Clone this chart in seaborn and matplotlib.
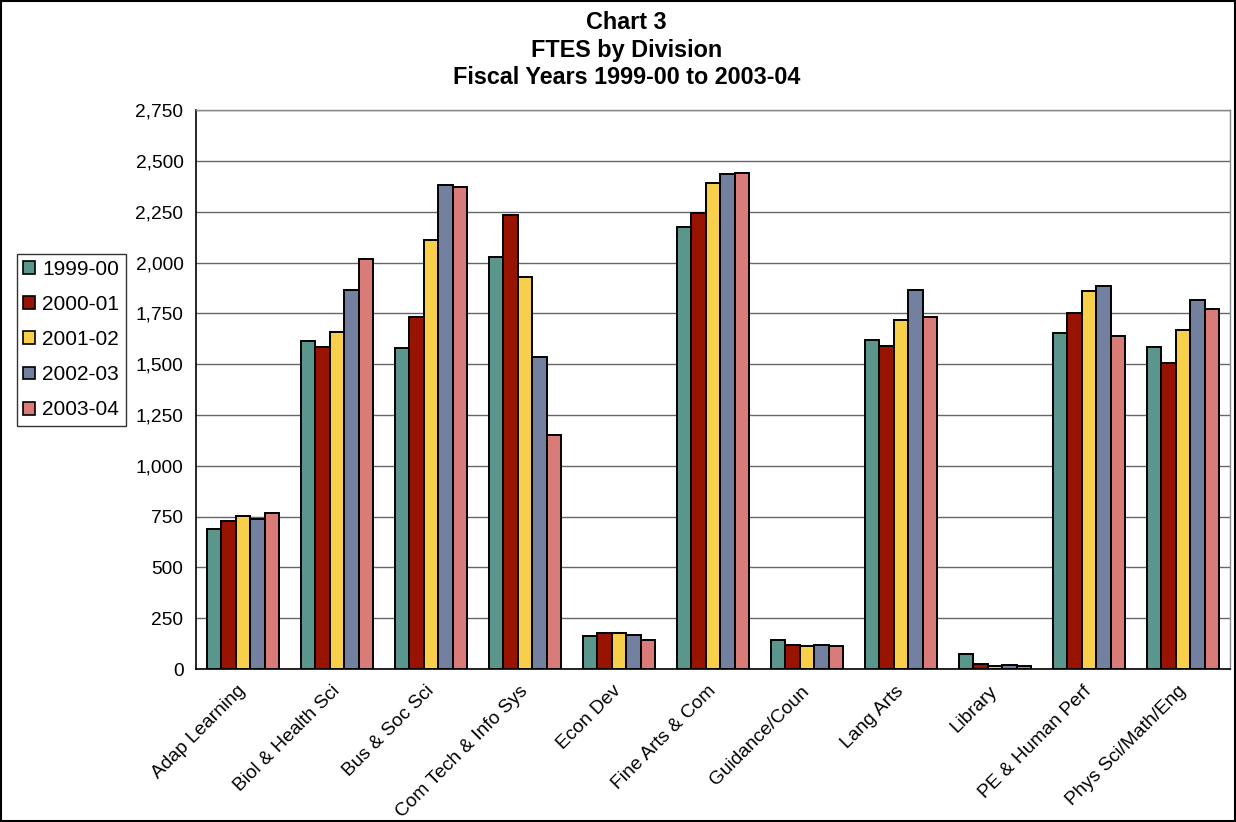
import pandas as pd
import seaborn as sns
import matplotlib.pyplot as plt
from matplotlib.patches import Rectangle
from matplotlib.ticker import FuncFormatter, MultipleLocator

# Datos (FTES por division)
divisiones = ['Adap Learning', 'Biol & Health Sci', 'Bus & Soc Sci', 'Com Tech & Info Sys',
              'Econ Dev', 'Fine Arts & Com', 'Guidance/Coun', 'Lang Arts', 'Library',
              'PE & Human Perf', 'Phys Sci/Math/Eng']
anios = ['1999-00', '2000-01', '2001-02', '2002-03', '2003-04']

fy_1999 = [690, 1614, 1581, 2026, 164, 2174, 142, 1619, 75, 1654, 1583]
fy_2000 = [731, 1587, 1732, 2234, 179, 2245, 120, 1588, 27, 1750, 1508]
fy_2001 = [753, 1659, 2110, 1929, 179, 2393, 115, 1716, 16, 1862, 1667]
fy_2002 = [740, 1866, 2380, 1537, 168, 2438, 117, 1866, 22, 1885, 1814]
fy_2003 = [768, 2019, 2371, 1154, 142, 2440, 113, 1734, 15, 1641, 1774]

colores = ['#5A968B', '#981400', '#F7CF4B', '#7380A0', '#D87B79']

series = [fy_1999, fy_2000, fy_2001, fy_2002, fy_2003]
filas = []
for anio, vals in zip(anios, series):
    for div, v in zip(divisiones, vals):
        filas.append({'division': div, 'anio': anio, 'ftes': v})
df = pd.DataFrame(filas)

sns.set_style('white', {'text.color': 'black', 'xtick.color': 'black', 'ytick.color': 'black'})
plt.rcParams['font.family'] = ['Liberation Sans', 'DejaVu Sans']

fig = plt.figure(figsize=(12.36, 8.22), dpi=100)
ax = fig.add_axes([196 / 1236, 0.186, 1034 / 1236, 0.68])

sns.barplot(data=df, x='division', y='ftes', hue='anio', order=divisiones,
            hue_order=anios, palette=colores, saturation=1, width=0.77,
            edgecolor='black', linewidth=1.4, errorbar=None, ax=ax, zorder=3)

ax.set_ylim(0, 2750)
ax.set_xlim(-0.5, len(divisiones) - 0.5)
ax.yaxis.set_major_locator(MultipleLocator(250))
ax.yaxis.set_major_formatter(FuncFormatter(lambda v, p: '{:,.0f}'.format(v)))
ax.grid(axis='y', color='#666666', linewidth=1.0, zorder=0)
ax.set_axisbelow(True)
ax.set_xlabel('')
ax.set_ylabel('')

# ticks del eje x entre categorias
ax.set_xticks(range(len(divisiones)))
ax.set_xticklabels(divisiones, rotation=45, ha='right', va='center',
                   rotation_mode='anchor', fontsize=13.8)
ax.set_xticks([i - 0.5 for i in range(len(divisiones) + 1)], minor=True)
ax.tick_params(axis='x', which='major', length=0, pad=14)
ax.tick_params(axis='x', which='minor', length=5, color='black', direction='out')
ax.tick_params(axis='y', length=5, color='black', direction='out', labelsize=13.8, pad=4)

for lado in ['left', 'bottom']:
    ax.spines[lado].set_color('black')
    ax.spines[lado].set_linewidth(1.2)
for lado in ['top', 'right']:
    ax.spines[lado].set_color('#888888')
    ax.spines[lado].set_linewidth(1.0)

ax.get_legend().remove()
handles = [Rectangle((0, 0), 1, 1, facecolor=c, edgecolor='black', linewidth=1.2) for c in colores]
leg = fig.legend(handles, anios, loc='upper left', bbox_to_anchor=(0.0138, 0.691),
                 borderaxespad=0, fontsize=15, frameon=True, fancybox=False,
                 handlelength=0.58, handleheight=0.58, handletextpad=0.34,
                 labelspacing=0.77, borderpad=0.3, edgecolor='black')
leg.get_frame().set_linewidth(1.0)

fig.text(0.507, 1 - 20 / 822, 'Chart 3', ha='center', va='center_baseline',
         fontsize=16.8, fontweight='bold')
fig.text(0.507, 1 - 48 / 822, 'FTES by Division', ha='center', va='center_baseline',
         fontsize=16.8, fontweight='bold')
fig.text(0.507, 1 - 75 / 822, 'Fiscal Years 1999-00 to 2003-04', ha='center',
         va='center_baseline', fontsize=16.8, fontweight='bold')

# marco alrededor de la figura
fig.patches.append(Rectangle((0.001, 0.001), 0.998, 0.998, transform=fig.transFigure,
                             fill=False, edgecolor='black', linewidth=1.5))

plt.savefig('out.png', dpi=100)
